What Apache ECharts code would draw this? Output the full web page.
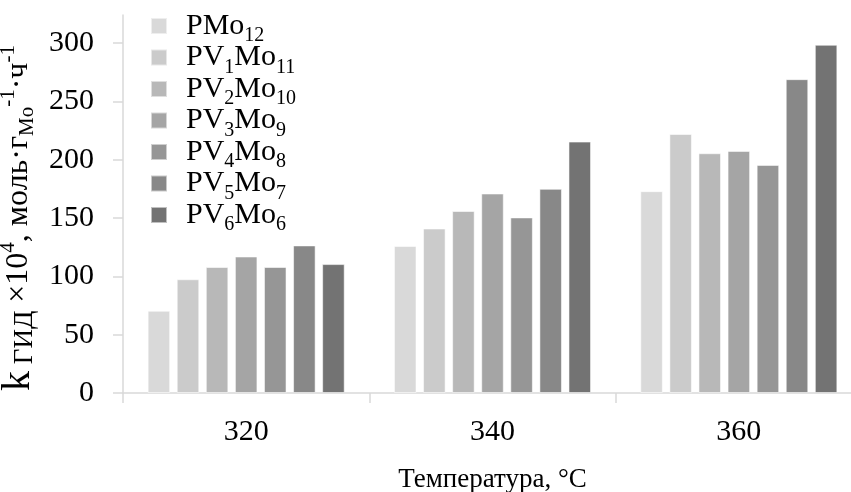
<!DOCTYPE html>
<html>
<head>
<meta charset="utf-8">
<script src="https://cdn.jsdelivr.net/npm/echarts@6/dist/echarts.min.js"></script>
<style>
  html, body { margin: 0; padding: 0; background: #ffffff; }
  #chart { width: 851px; height: 492px; }
</style>
</head>
<body>
<div id="chart"></div>
<script>
// Reaction temperatures, °C
const temperatures = ['320', '340', '360'];

// Catalyst names (digits become subscripts in the legend)
const seriesNames = ['PMo12', 'PV1Mo11', 'PV2Mo10', 'PV3Mo9', 'PV4Mo8', 'PV5Mo7', 'PV6Mo6'];

// Rate constant k·10^4 for each catalyst at 320 / 340 / 360 °C
const vPMo12   = [70.5, 126, 173];
const vPV1Mo11 = [97.5, 141, 222];
const vPV2Mo10 = [108, 156, 205.5];
const vPV3Mo9  = [117, 171, 207.5];
const vPV4Mo8  = [108, 150.5, 195.5];
const vPV5Mo7  = [126.5, 175, 269];
const vPV6Mo6  = [110.5, 215.5, 298.5];

// Y axis tick values
const yTicks = [0, 50, 100, 150, 200, 250, 300];

const seriesValues = [vPMo12, vPV1Mo11, vPV2Mo10, vPV3Mo9, vPV4Mo8, vPV5Mo7, vPV6Mo6];
const barColors = ['#d9d9d9', '#cbcbcb', '#b8b8b8', '#a5a5a5', '#969696', '#888888', '#737373'];

const FONT = '"Liberation Serif", "Times New Roman", serif';
const AXIS_GREY = '#d9d9d9';

// 'PV1Mo11' -> '{n|PV}{s|1}{n|Mo}{s|11}'
function chemRich(name) {
  return name.replace(/([A-Za-z]+)/g, '{n|$1}').replace(/(\d+)/g, '{s|$1}');
}

const chart = echarts.init(document.getElementById('chart'), null, { renderer: 'canvas' });

chart.setOption({
  animation: false,
  backgroundColor: '#ffffff',
  color: barColors,
  grid: { left: 123, right: -11, top: 15, bottom: 99, outerBoundsMode: 'none', containLabel: false },
  legend: {
    orient: 'vertical',
    left: 150,
    top: 11,
    padding: 0,
    itemWidth: 16,
    itemHeight: 16,
    itemGap: -3.5,
    icon: 'rect',
    formatter: function (name) { return chemRich(name); },
    textStyle: {
      fontFamily: FONT,
      color: '#000000',
      padding: [0, 0, 0, 14],
      rich: {
        n: { fontFamily: FONT, fontSize: 30, lineHeight: 30, color: '#000' },
        s: { fontFamily: FONT, fontSize: 20, lineHeight: 18, color: '#000', verticalAlign: 'bottom', padding: [0, 0, -5, 0] }
      }
    },
    data: seriesNames
  },
  xAxis: {
    type: 'category',
    data: temperatures,
    name: 'Температура, °С',
    nameLocation: 'middle',
    nameGap: 73,
    nameTextStyle: { fontFamily: FONT, fontSize: 27, color: '#000000' },
    axisLine: { show: true, lineStyle: { color: AXIS_GREY, width: 1.5 } },
    axisTick: { show: true, length: 10, lineStyle: { color: AXIS_GREY, width: 1.5 } },
    axisLabel: { fontFamily: FONT, fontSize: 30, color: '#000000', margin: 24 },
    splitLine: { show: false }
  },
  yAxis: {
    type: 'value',
    min: 0,
    max: 324,
    interval: 50,
    name: '{k|k}{sub| ГИД}{n| ×10}{sup|4}{n|, моль·г}{sub2|Mo}{sup|-1}{n|·ч}{sup|-1}',
    nameLocation: 'middle',
    nameGap: 71,
    nameRotate: 90,
    nameTextStyle: {
      fontFamily: FONT,
      color: '#000000',
      padding: [0, 28, 0, 0],
      rich: {
        k:    { fontFamily: FONT, fontSize: 40, lineHeight: 40, color: '#000', verticalAlign: 'middle' },
        n:    { fontFamily: FONT, fontSize: 32, lineHeight: 40, color: '#000', verticalAlign: 'middle' },
        sub:  { fontFamily: FONT, fontSize: 27, lineHeight: 24, color: '#000', verticalAlign: 'bottom' },
        sub2: { fontFamily: FONT, fontSize: 21, lineHeight: 20, color: '#000', verticalAlign: 'bottom' },
        sup:  { fontFamily: FONT, fontSize: 21, lineHeight: 22, color: '#000', verticalAlign: 'top' }
      }
    },
    axisLine: { show: true, lineStyle: { color: AXIS_GREY, width: 1.5 } },
    axisTick: { show: true, length: 10, customValues: yTicks, lineStyle: { color: AXIS_GREY, width: 1.5 } },
    axisLabel: { fontFamily: FONT, fontSize: 30, color: '#000000', margin: 29, customValues: yTicks },
    splitLine: { show: false }
  },
  series: seriesNames.map(function (name, i) {
    return {
      name: name,
      type: 'bar',
      data: seriesValues[i],
      barGap: '29%',
      barCategoryGap: '20%',
      itemStyle: { color: barColors[i], borderColor: 'rgba(255,255,255,0.55)', borderWidth: 1 }
    };
  })
});
</script>
</body>
</html>
